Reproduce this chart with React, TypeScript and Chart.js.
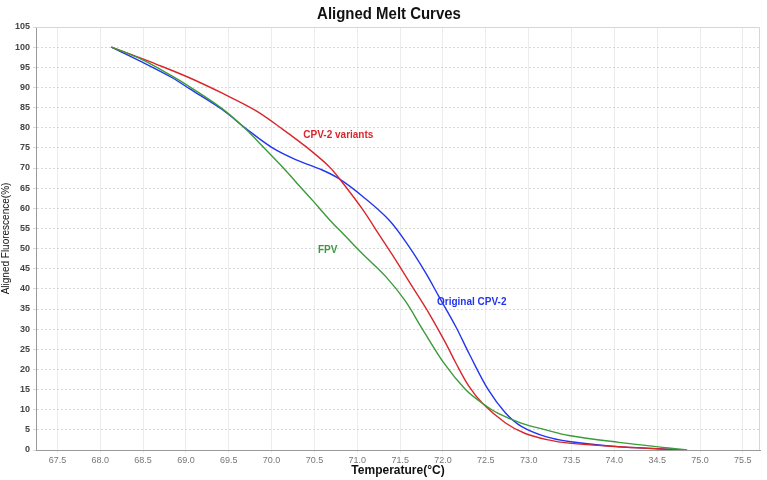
import React, { useEffect, useRef } from "react";
import { Chart, registerables } from "chart.js";

Chart.register(...registerables);

// Melt curve data: temperature (°C) vs aligned fluorescence (%)
const variantsTemp = [68.13, 68.38, 68.65, 69.04, 69.43, 69.82, 70.13, 70.4, 70.67, 70.79, 71.06, 71.25, 71.45, 71.64, 71.84, 72.03, 72.15, 72.3, 72.46, 72.73, 72.96, 73.23, 73.47, 74.05, 74.5, 74.8];
const variantsVal = [100, 98, 95.8, 92.4, 88.5, 84.2, 79.6, 75.3, 70.4, 67.4, 59.8, 53.6, 47.1, 40.6, 33.8, 26.6, 21.6, 15.9, 11.6, 6.7, 4.1, 2.5, 1.7, 0.8, 0.3, 0];

const originalTemp = [68.13, 68.46, 68.84, 69.04, 69.43, 69.7, 70.01, 70.28, 70.59, 70.79, 71.06, 71.37, 71.6, 71.8, 71.95, 72.15, 72.31, 72.53, 72.73, 72.92, 73.2, 73.47, 74.0, 74.5, 74.8];
const originalVal = [100, 96.6, 92.4, 89.7, 84.4, 79.8, 75.0, 72.1, 69.5, 67.3, 63.0, 57.1, 50.6, 43.9, 38.2, 30.6, 23.7, 14.9, 9.2, 5.8, 3.3, 2.1, 0.9, 0.3, 0];

const fpvTemp = [68.13, 68.46, 68.84, 69.04, 69.43, 69.7, 69.93, 70.13, 70.28, 70.48, 70.67, 70.86, 71.06, 71.33, 71.56, 71.76, 72.02, 72.26, 72.46, 72.65, 72.92, 73.2, 73.47, 74.05, 74.63, 74.85];
const fpvVal = [100, 97.2, 92.8, 90.2, 84.6, 79.6, 74.6, 70.2, 66.6, 61.9, 57.3, 53.1, 48.7, 43.1, 37.0, 30.0, 21.3, 15.1, 11.6, 9.0, 6.6, 5.0, 3.6, 1.9, 0.5, 0];

// Axis ticks
const xTickValues = [67.5, 68.0, 68.5, 69.0, 69.5, 70.0, 70.5, 71.0, 71.5, 72.0, 72.5, 73.0, 73.5, 74.0, 74.5, 75.0, 75.5];
const xTickLabels = ["67.5", "68.0", "68.5", "69.0", "69.5", "70.0", "70.5", "71.0", "71.5", "72.0", "72.5", "73.0", "73.5", "74.0", "34.5", "75.0", "75.5"];
const yTickValues = [0, 5, 10, 15, 20, 25, 30, 35, 40, 45, 50, 55, 60, 65, 70, 75, 80, 85, 90, 95, 100, 105];

// Curve labels, anchored in data coordinates (left edge, vertical middle)
const seriesNames = ["CPV-2 variants", "Original CPV-2", "FPV"];
const seriesColors = ["#d8262b", "#2336ee", "#3b9a3b"];
const labelAnchorX = [70.37, 71.93, 70.54];
const labelAnchorY = [78.2, 36.7, 49.6];

const SANS = "'Liberation Sans', Arial, sans-serif";

const toPoints = (xs: number[], ys: number[]) => xs.map((x, i) => ({ x, y: ys[i] }));

export default function App() {
  const canvasRef = useRef<HTMLCanvasElement | null>(null);

  useEffect(() => {
    document.body.style.margin = "0";
    const canvas = canvasRef.current;
    if (!canvas) return;

    const frameAndLabels = {
      id: "frameAndLabels",
      beforeDatasetsDraw(chart: any) {
        const { ctx, chartArea } = chart;
        ctx.save();
        ctx.strokeStyle = "#d6d6d6";
        ctx.lineWidth = 1;
        ctx.beginPath();
        ctx.moveTo(chartArea.left, chartArea.top + 0.5);
        ctx.lineTo(chartArea.right - 0.5, chartArea.top + 0.5);
        ctx.lineTo(chartArea.right - 0.5, chartArea.bottom);
        ctx.stroke();
        ctx.restore();
      },
      afterDraw(chart: any) {
        const { ctx, scales } = chart;
        ctx.save();
        // condensed bold title
        ctx.fillStyle = "#111";
        ctx.font = `bold 17px ${SANS}`;
        ctx.textAlign = "center";
        ctx.textBaseline = "middle";
        ctx.translate(389, 14);
        ctx.scale(0.88, 1);
        ctx.fillText("Aligned Melt Curves", 0, 0);
        ctx.restore();

        ctx.save();
        ctx.font = `bold 10px ${SANS}`;
        ctx.textAlign = "left";
        ctx.textBaseline = "middle";
        seriesNames.forEach((name, i) => {
          ctx.fillStyle = seriesColors[i];
          ctx.fillText(name, scales.x.getPixelForValue(labelAnchorX[i]), scales.y.getPixelForValue(labelAnchorY[i]));
        });
        ctx.restore();
      },
    };

    const makeSet = (label: string, xs: number[], ys: number[], color: string) => ({
      label,
      data: toPoints(xs, ys),
      borderColor: color,
      backgroundColor: color,
      borderWidth: 1.4,
      pointRadius: 0,
      tension: 0.35,
    });

    const chart = new Chart(canvas, {
      type: "line",
      data: {
        datasets: [
          makeSet("FPV", fpvTemp, fpvVal, seriesColors[2]),
          makeSet("CPV-2 variants", variantsTemp, variantsVal, seriesColors[0]),
          makeSet("Original CPV-2", originalTemp, originalVal, seriesColors[1]),
        ],
      },
      options: {
        animation: false,
        responsive: false,
        maintainAspectRatio: false,
        layout: { padding: { top: 27, right: 7, left: 0, bottom: 0 } },
        plugins: {
          legend: { display: false },
          title: { display: false },
          tooltip: { enabled: false },
        },
        scales: {
          x: {
            type: "linear",
            min: 67.25,
            max: 75.7,
            afterBuildTicks(axis: any) {
              axis.ticks = xTickValues.map((v) => ({ value: v }));
            },
            afterFit(axis: any) {
              axis.height = 30;
            },
            ticks: {
              autoSkip: false,
              maxRotation: 0,
              padding: 2,
              color: "#777",
              font: { size: 9, family: SANS },
              callback: (v: any) => {
                const i = xTickValues.findIndex((t) => Math.abs(t - Number(v)) < 1e-6);
                return i >= 0 ? xTickLabels[i] : "";
              },
            },
            grid: { color: "#ececec", lineWidth: 1, tickLength: 3, drawTicks: true },
            border: { color: "#9a9a9a", width: 1 },
            title: {
              display: true,
              text: "Temperature(°C)",
              color: "#111",
              padding: { top: 0, bottom: 2 },
              font: { size: 12, weight: "bold", family: SANS },
            },
          },
          y: {
            type: "linear",
            min: 0,
            max: 105,
            afterBuildTicks(axis: any) {
              axis.ticks = yTickValues.map((v) => ({ value: v }));
            },
            afterFit(axis: any) {
              axis.width = 36;
            },
            ticks: {
              autoSkip: false,
              padding: 3,
              color: "#444",
              font: { size: 9, weight: "bold", family: SANS },
            },
            grid: { color: "#d8d8d8", lineWidth: 1, tickLength: 3 },
            border: { color: "#9a9a9a", width: 1, dash: [2, 2] } as any,
            title: {
              display: true,
              text: "Aligned Fluorescence(%)",
              color: "#111",
              padding: { top: 0, bottom: 0 },
              font: { size: 10, family: SANS },
            },
          },
        },
      },
      plugins: [frameAndLabels],
    });

    return () => chart.destroy();
  }, []);

  return (
    <div style={{ position: "relative", width: 767, height: 480, background: "#fff" }}>
      <canvas ref={canvasRef} width={767} height={480} style={{ display: "block" }} />
    </div>
  );
}
